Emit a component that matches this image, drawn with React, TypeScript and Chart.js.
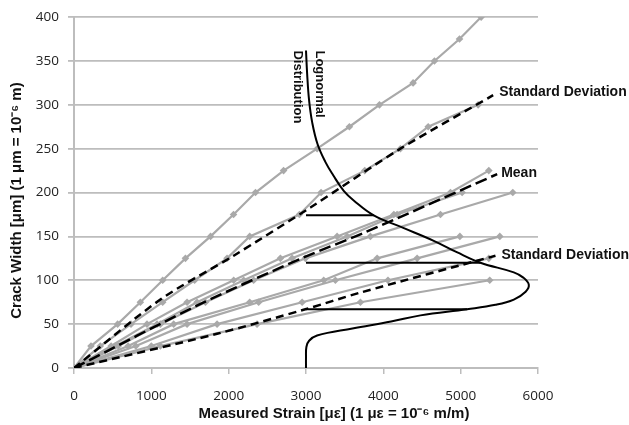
import React, { useEffect, useRef } from "react";
import { Chart, registerables } from "chart.js";

Chart.register(...registerables);

type P = [number, number];

// x ticks (strain, µε) and y ticks (crack width, µm)
const X_MIN = 0, X_MAX = 6000, X_STEP = 1000;
const Y_MIN = 0, Y_MAX = 400, Y_STEP = 50;

// measured specimens (strain, crack width)
const lineA: P[] = [[0, 0], [220, 25], [564, 50], [858, 75], [1147, 100], [1441, 125], [1766, 150], [2063, 175], [2347, 200], [2710, 225], [3144, 250], [3561, 275], [3950, 300], [4385, 325], [4661, 350], [4985, 375], [5265, 400]];
const lineB: P[] = [[0, 0], [340, 25], [737, 50], [1147, 75], [1560, 100], [1979, 125], [2272, 150], [2915, 175], [3195, 200], [3760, 225], [4221, 250], [4580, 275], [5226, 300]];
const lineC1: P[] = [[0, 0], [480, 25], [944, 50], [1462, 75], [2065, 100], [2669, 125], [3402, 150], [4136, 175], [4868, 200], [5364, 225]];
const lineC2: P[] = [[0, 0], [534, 25], [1074, 50], [1591, 75], [2194, 100], [2820, 125], [3532, 150], [4178, 175], [5019, 200]];
const lineC3: P[] = [[0, 0], [573, 25], [1117, 50], [1700, 75], [2323, 100], [2992, 125], [3833, 150], [4739, 175], [5674, 200]];
const lineE1: P[] = [[0, 0], [700, 25], [1289, 50], [2272, 75], [3229, 100], [3920, 125], [4990, 150]];
const lineE2: P[] = [[0, 0], [800, 25], [1462, 50], [2388, 75], [3380, 100], [4437, 125], [5506, 150]];
const lineE3: P[] = [[0, 0], [1000, 25], [1850, 50], [2950, 75], [4060, 100], [5364, 125]];
const lineE4: P[] = [[0, 0], [1117, 25], [2367, 50], [3704, 75], [5376, 100]];
const grayLines: P[][] = [lineA, lineB, lineC1, lineC2, lineC3, lineE1, lineE2, lineE3, lineE4];

// statistical lines
const upperSD: P[] = [[0, 0], [1117, 78], [2065, 128], [3057, 183], [4221, 250], [5420, 311]];
const meanLine: P[] = [[0, 0], [1636, 73], [2970, 126], [3747, 154], [5472, 221]];
const lowerSD: P[] = [[0, 0], [1850, 39], [2992, 67], [3704, 86], [5450, 128]];

// lognormal distribution drawn sideways from baseline strain 3000
const lognormal: P[] = [[3000, 0], [3000, 12], [3005, 24], [3040, 31], [3143, 37], [3600, 45], [4100, 53], [4480, 60], [5084, 67], [5450, 72], [5687, 78], [5840, 87], [5881, 95], [5810, 103], [5687, 109], [5256, 120], [4950, 132], [4652, 145], [4250, 160], [3876, 174], [3617, 191], [3488, 202], [3350, 220], [3250, 235], [3150, 255], [3080, 280], [3040, 305], [3015, 335], [3000, 362]];
const levelLines: P[][] = [[[3000, 174], [3876, 174]], [[3000, 120], [5256, 120]], [[3000, 67], [5084, 67]]];

const LABEL_SD = "Standard Deviation";
const LABEL_MEAN = "Mean";
const LABEL_LOG1 = "Lognormal";
const LABEL_LOG2 = "Distribution";
const X_TITLE = "Measured Strain [\u03BC\u03B5] (1 \u03BC\u03B5 = 10\u207B\u2076 m/m)";
const Y_TITLE = "Crack Width [\u03BCm] (1 \u03BCm = 10\u207B\u2076 m)";

const toXY = (pts: P[]) => pts.map(([x, y]) => ({ x, y }));

const GRAY = "#a9a9a9";
const BOLD = 'bold 14px "Liberation Sans", Arial, sans-serif';
const TITLE_FONT = 'bold 15px "Liberation Sans", Arial, sans-serif';

const labelPlugin = {
  id: "customLabels",
  afterDraw(chart: any) {
    const { ctx, scales, chartArea } = chart;
    const xs = scales.x, ys = scales.y;
    const px = (v: number) => xs.getPixelForValue(v);
    const py = (v: number) => ys.getPixelForValue(v);
    ctx.save();
    ctx.fillStyle = "#111";
    ctx.font = BOLD;
    ctx.textBaseline = "middle";
    ctx.textAlign = "left";
    const u = upperSD[upperSD.length - 1];
    ctx.fillText(LABEL_SD, px(u[0]) + 6, py(u[1]) - 3);
    const m = meanLine[meanLine.length - 1];
    ctx.fillText(LABEL_MEAN, px(m[0]) + 4, py(m[1]) - 1);
    const l = lowerSD[lowerSD.length - 1];
    ctx.fillText(LABEL_SD, px(l[0]) + 6, py(l[1]) - 1);

    // lognormal label rotated
    ctx.save();
    ctx.font = 'bold 13px "Liberation Sans", Arial, sans-serif';
    ctx.translate(px(3000) + 14, py(362));
    ctx.rotate(Math.PI / 2);
    ctx.fillText(LABEL_LOG1, 0, 0);
    ctx.fillText(LABEL_LOG2, 0, 22);
    ctx.restore();

    // axis titles
    ctx.font = TITLE_FONT;
    ctx.textAlign = "center";
    ctx.fillText(X_TITLE, (chartArea.left + chartArea.right) / 2 + 28, 414);
    ctx.save();
    ctx.translate(17, (chartArea.top + chartArea.bottom) / 2 + 8);
    ctx.rotate(-Math.PI / 2);
    ctx.fillText(Y_TITLE, 0, 0);
    ctx.restore();
    ctx.restore();
  },
};

export default function App() {
  const ref = useRef<HTMLCanvasElement>(null);
  useEffect(() => {
    if (!ref.current) return;
    const datasets: any[] = [];
    levelLines.forEach((seg) =>
      datasets.push({ data: toXY(seg), borderColor: "#000", borderWidth: 2, pointRadius: 0, showLine: true })
    );
    datasets.push({ data: toXY(lognormal), borderColor: "#000", borderWidth: 2, pointRadius: 0, showLine: true, tension: 0.4 });
    datasets.push({ data: toXY(upperSD), borderColor: "#000", borderWidth: 2.5, borderDash: [8, 5], pointRadius: 0, showLine: true, tension: 0.3 });
    datasets.push({ data: toXY(meanLine), borderColor: "#000", borderWidth: 2.5, borderDash: [12, 5], pointRadius: 0, showLine: true, tension: 0.3 });
    datasets.push({ data: toXY(lowerSD), borderColor: "#000", borderWidth: 2.5, borderDash: [8, 5], pointRadius: 0, showLine: true, tension: 0.3 });
    grayLines.forEach((ln) =>
      datasets.push({
        data: toXY(ln),
        borderColor: GRAY,
        backgroundColor: GRAY,
        borderWidth: 2.2,
        pointStyle: "rectRot",
        pointRadius: 3.8,
        pointBorderWidth: 0,
        showLine: true,
      })
    );
    const tickFont = { family: '"Open Sans", sans-serif', size: 13.5 };
    const chart = new Chart(ref.current, {
      type: "scatter",
      data: { datasets },
      options: {
        responsive: false,
        animation: false,
        devicePixelRatio: 1,
        layout: { padding: { top: 16, right: 91, left: 0, bottom: 0 } },
        plugins: { legend: { display: false }, tooltip: { enabled: false } },
        scales: {
          x: {
            type: "linear",
            min: X_MIN,
            max: X_MAX,
            afterFit: (s: any) => { s.height = 57; },
            ticks: { stepSize: X_STEP, padding: 14, color: "#222", font: tickFont, callback: (v: any) => String(v) },
            grid: { drawOnChartArea: false, drawTicks: true, tickLength: 6, color: "#bdbdbd", lineWidth: 1.5 },
            border: { display: true, color: "#bdbdbd", width: 2 },
          },
          y: {
            type: "linear",
            min: Y_MIN,
            max: Y_MAX,
            afterFit: (s: any) => { s.width = 74; },
            ticks: { stepSize: Y_STEP, padding: 9, color: "#222", font: tickFont, callback: (v: any) => String(v) },
            grid: { drawTicks: true, tickLength: 6, color: "#bdbdbd", lineWidth: 1.8 },
            border: { display: true, color: "#bdbdbd", width: 2 },
          },
        },
      },
      plugins: [labelPlugin],
    });
    return () => chart.destroy();
  }, []);
  return (
    <div style={{ position: "fixed", left: 0, top: 0, width: 629, height: 425, background: "#fff" }}>
      <canvas ref={ref} width={629} height={425} style={{ display: "block" }} />
    </div>
  );
}
